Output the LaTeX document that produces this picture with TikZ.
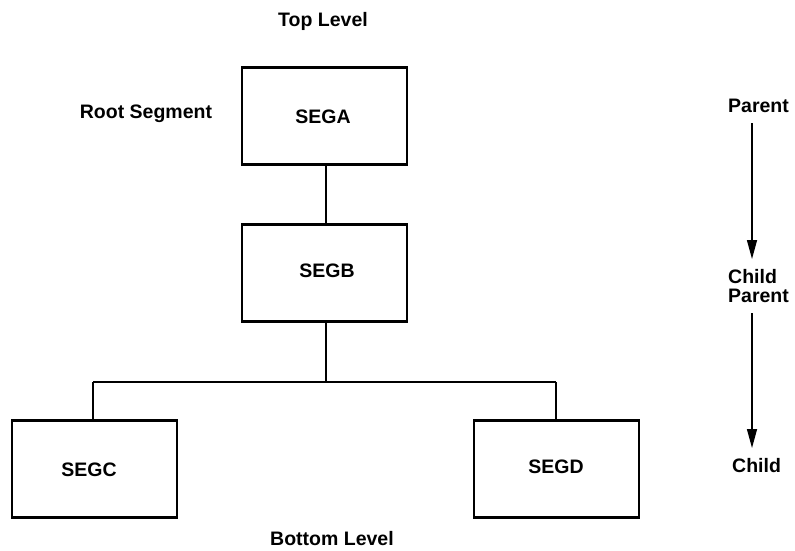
\documentclass[tikz,border=0pt]{standalone}
\usepackage{fontspec}
\setmainfont{Liberation Sans}
\usetikzlibrary{arrows.meta}
\begin{document}
\begin{tikzpicture}[x=1pt,y=-1pt,
  every node/.style={font=\fontsize{19.5}{21}\selectfont\bfseries, inner sep=0pt},
  seg/.style={draw, line width=2.5pt, minimum width=165pt, minimum height=97pt},
  link/.style={line width=1.4pt},
  flow/.style={line width=1.4pt, -{Triangle[length=19pt,width=10pt]}},
  lbl/.style={}]
  \useasboundingbox (0,0) rectangle (795,550);

  % segment boxes
  \node[seg] (sega) at (324.5,116) {};
  \node at (323,117) {SEGA};
  \node[seg] (segb) at (324.5,273) {};
  \node at (327,271) {SEGB};
  \node[seg] (segc) at (94.5,469) {};
  \node at (89,470) {SEGC};
  \node[seg] (segd) at (556.5,469) {};
  \node at (556,467) {SEGD};

  % level labels
  \node[lbl] (top) at (323,21) {Top Level};
  \node[lbl] (bottom) at (332,539) {Bottom Level};
  \node[lbl] (root) at (146,114) {Root Segment};

  % hierarchy connectors
  \coordinate (jb) at (326,382);
  \coordinate (jc) at (93,382);
  \coordinate (jd) at (556,382);
  \draw[link] (sega.south -| jb) -- (segb.north -| jb);
  \draw[link] (segb.south -| jb) -- (jb);
  \draw[link] (jc) -- (jd);
  \draw[link] (jc) -- (segc.north -| jc);
  \draw[link] (jd) -- (segd.north -| jd);

  % parent/child legend
  \node[lbl, anchor=west] (p1) at (728,106) {Parent};
  \node[lbl, anchor=west] (c1) at (728,277) {Child};
  \node[lbl, anchor=west] (p2) at (728,296) {Parent};
  \node[lbl, anchor=west] (c2) at (732,466) {Child};
  \coordinate (a1s) at (752,123);
  \coordinate (a1e) at (752,259);
  \coordinate (a2s) at (752,313);
  \coordinate (a2e) at (752,448);
  \draw[flow] (a1s) -- (a1e);
  \draw[flow] (a2s) -- (a2e);
\end{tikzpicture}
\end{document}
